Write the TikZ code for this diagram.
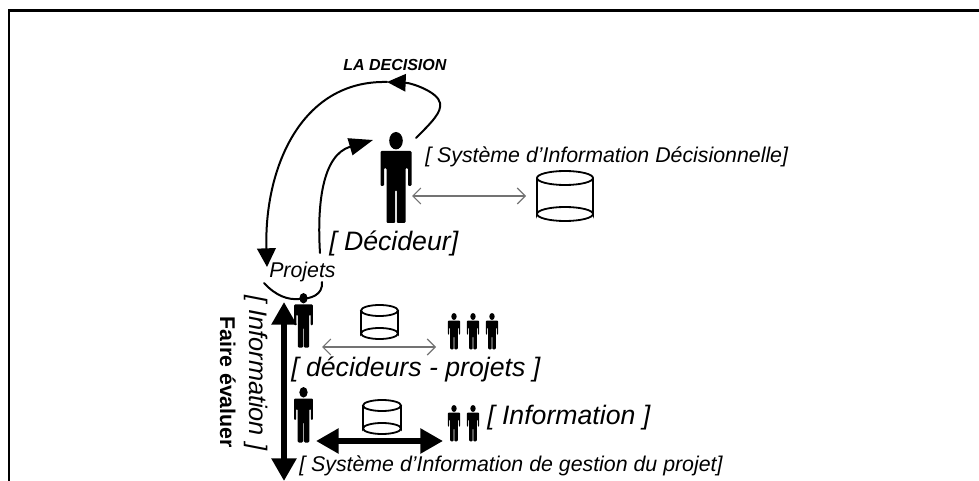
\documentclass[tikz,border=0pt]{standalone}
\usepackage{fontspec}
\setmainfont{Liberation Sans}
\usetikzlibrary{arrows.meta}
\tikzset{
  lab/.style={inner sep=0pt,anchor=base west,font=\itshape\fontsize{16}{18}\selectfont},
  labbig/.style={lab,font=\itshape\fontsize{20}{22}\selectfont},
  thinarrow/.style={draw=black!55,line width=.8pt,{Straight Barb[length=6pt,width=12pt]}-{Straight Barb[length=6pt,width=12pt]}},
  thickarrow/.style={line width=4.2pt,{Triangle[length=17pt,width=18pt]}-{Triangle[length=17pt,width=18pt]}},
  flow/.style={line width=1.5pt,line cap=round},
  cyl/.style={line width=1.35pt,fill=white}
}
\newcommand{\person}[3]{%
 \begin{scope}[shift={(#1,#2)},scale=#3]
  \fill (0,8.7) ellipse[x radius=6.8,y radius=8.7];
  \fill[rounded corners=.8pt] (-15.5,19) -- (15.5,19) -- (15.5,54) -- (12,54) -- (12,36) -- (9.5,36) -- (9.5,91) -- (.8,91) -- (.8,58) -- (-.8,58) -- (-.8,91) -- (-9.5,91) -- (-9.5,36) -- (-12,36) -- (-12,54) -- (-15.5,54) -- cycle;
 \end{scope}}
\newcommand{\cylinder}[5]{% left top width height ry
 \begin{scope}[shift={(#1,#2)}]
  \draw[cyl] (0,#5) -- (0,{#4-#5}) arc[start angle=180,end angle=360,x radius=#3/2,y radius=#5] -- (#3,#5);
  \draw[cyl] ({#3/2},#5) ellipse[x radius=#3/2,y radius=#5];
  \draw[cyl,fill=none] (0,{#4-#5}) arc[start angle=180,end angle=0,x radius=#3/2,y radius=#5];
 \end{scope}}
\begin{document}
\begin{tikzpicture}[x=.75pt,y=-.75pt]
\useasboundingbox (0,0) rectangle (979,481);
\draw[line width=1.6pt,line cap=rect] (9,481) -- (9,10.5) -- (979,10.5);

% loop
\coordinate (d1) at (416,138);
\coordinate (d2) at (440,103);
\coordinate (d3) at (387,82);
\coordinate (d4) at (267,267);
\coordinate (p1) at (320,253);
\coordinate (p2) at (373,140);
\coordinate (a1) at (264,283);
\coordinate (a2) at (322,282);
\draw[flow] (a1) .. controls (276,296) and (288,300) .. (299,299) .. controls (311,299) and (323,295) .. (a2);
\draw[flow,-{Triangle[length=18pt,width=13pt]}] (p1) .. controls (317,205) and (322,155) .. (p2);
\draw[flow,-{Triangle[length=14pt,width=13pt]}] (d1) .. controls (432,122) and (442,112) .. (d2) .. controls (438,92) and (412,83) .. (d3);
\draw[flow,-{Triangle[length=14pt,width=14pt]}] (d3) .. controls (300,80) and (264,170) .. (d4);

% persons
\person{396}{132}{1}
\person{303.5}{293}{.6}
\person{303.5}{387}{.61}
\person{454}{313}{.4}
\person{473}{313}{.4}
\person{492}{313}{.4}
\person{454}{405}{.4}
\person{473}{405}{.4}

% cylinders
\cylinder{537}{171}{56}{50}{7}
\cylinder{361}{305}{37}{34}{5.5}
\cylinder{363}{400}{38}{34}{5.5}

% arrows
\coordinate (t1) at (412,196);
\coordinate (t2) at (526,196);
\coordinate (t3) at (322,347);
\coordinate (t4) at (436,347);
\coordinate (k1) at (316,441);
\coordinate (k2) at (443,441);
\coordinate (v1) at (284,302);
\coordinate (v2) at (284,481);
\draw[thinarrow] (t1) -- (t2);
\draw[thinarrow] (t3) -- (t4);
\draw[thickarrow] (k1) -- (k2);
\draw[thickarrow] (v1) -- (v2);

% labels
\node[lab,font=\bfseries\itshape\fontsize{12}{14}\selectfont] (ladecision) at (343,71) {LA DECISION};
\node[lab] (sid) at (425,163) {[ Système d’Information Décisionnelle]};
\node[labbig] (decideur) at (329,251) {[ Décideur]};
\node[lab] (projets) at (269,277) {Projets};
\node[labbig] (decproj) at (291,376) {[ décideurs - projets ]};
\node[labbig] (info) at (487,424) {[ Information ]};
\node[lab] (sigp) at (299,471) {[ Système d’Information de gestion du projet]};
\node[inner sep=0pt,anchor=base west,rotate=-90,font=\itshape\fontsize{19}{21}\selectfont] (infov) at (249,295) {[ Information ]};
\node[inner sep=0pt,anchor=base west,rotate=-90,font=\bfseries\fontsize{16}{18}\selectfont] (faire) at (220,316) {Faire évaluer};
\end{tikzpicture}
\end{document}
